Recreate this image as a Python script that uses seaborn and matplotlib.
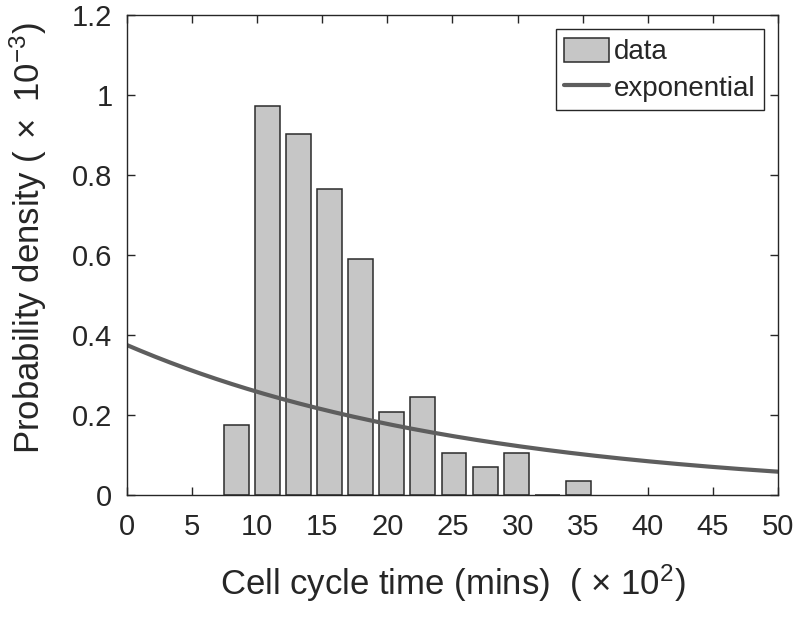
import matplotlib
matplotlib.use("Agg")
import matplotlib.pyplot as plt
import numpy as np
import pandas as pd
import seaborn as sns

# histogram bins (x in units of 10^2 mins), density in units of 10^-3
bin_centers = [8.39, 10.78, 13.17, 15.56, 17.95, 20.34, 22.73, 25.12,
               27.51, 29.90, 32.29, 34.68]
bin_density = [0.175, 0.973, 0.904, 0.764, 0.590, 0.208, 0.244, 0.105,
               0.070, 0.105, 0.0, 0.035]

# fitted exponential: mean cell cycle time (x 10^2 mins)
exp_mean = 26.7
x_ticks = [0, 5, 10, 15, 20, 25, 30, 35, 40, 45, 50]
y_ticks = [0, 0.2, 0.4, 0.6, 0.8, 1.0, 1.2]
y_tick_labels = ["0", "0.2", "0.4", "0.6", "0.8", "1", "1.2"]

sns.set_style("ticks")
plt.rcParams["font.family"] = ["Liberation Sans", "DejaVu Sans"]
plt.rcParams["mathtext.default"] = "regular"
plt.rcParams["font.size"] = 21

fig = plt.figure(figsize=(7.96, 6.28), dpi=100)
ax = fig.add_axes([0.1595, 0.2123, 0.8179, 0.7633])

bars = pd.DataFrame({"x": bin_centers, "density": bin_density})
sns.barplot(data=bars, x="x", y="density", native_scale=True, width=0.8,
            color="#c6c6c6", saturation=1, edgecolor="#2b2b2b",
            linewidth=1.1, ax=ax, label="data")

xs = np.linspace(0, 50, 300)
curve = pd.DataFrame({"x": xs, "pdf": 1e3 / (exp_mean * 100) * np.exp(-xs / exp_mean)})
sns.lineplot(data=curve, x="x", y="pdf", color="#5e5e5e", linewidth=3,
             ax=ax, label="exponential")

ax.set_xlim(0, 50)
ax.set_ylim(0, 1.2)
ax.set_xticks(x_ticks)
ax.set_xticklabels([str(t) for t in x_ticks])
ax.set_yticks(y_ticks)
ax.set_yticklabels(y_tick_labels)
ax.tick_params(direction="in", length=6, width=1, color="#262626",
               top=True, right=True, labelsize=21)
ax.tick_params(axis="x", pad=13)
ax.tick_params(axis="y", pad=10.5)
for sp in ax.spines.values():
    sp.set_visible(True)
    sp.set_color("#262626")
    sp.set_linewidth(1)

ax.set_xlabel(r"Cell cycle time (mins)  ( $\times$ 10$^{2}$)", fontsize=25, labelpad=16)
ax.set_ylabel(r"Probability density ($\,\times$ 10$^{-3}$)", fontsize=25)
ax.yaxis.set_label_coords(-0.12, 0.535)

handles, labels = ax.get_legend_handles_labels()
order = [labels.index("data"), labels.index("exponential")]
leg = ax.legend([handles[i] for i in order], [labels[i] for i in order],
                loc="upper right", fontsize=20, frameon=True, fancybox=False,
                edgecolor="#262626", framealpha=1, handlelength=1.6,
                handleheight=1.0, handletextpad=0.2, borderpad=0.3,
                labelspacing=0.3, borderaxespad=0.5)
leg.get_frame().set_linewidth(1)

fig.savefig("out.png", dpi=100)
